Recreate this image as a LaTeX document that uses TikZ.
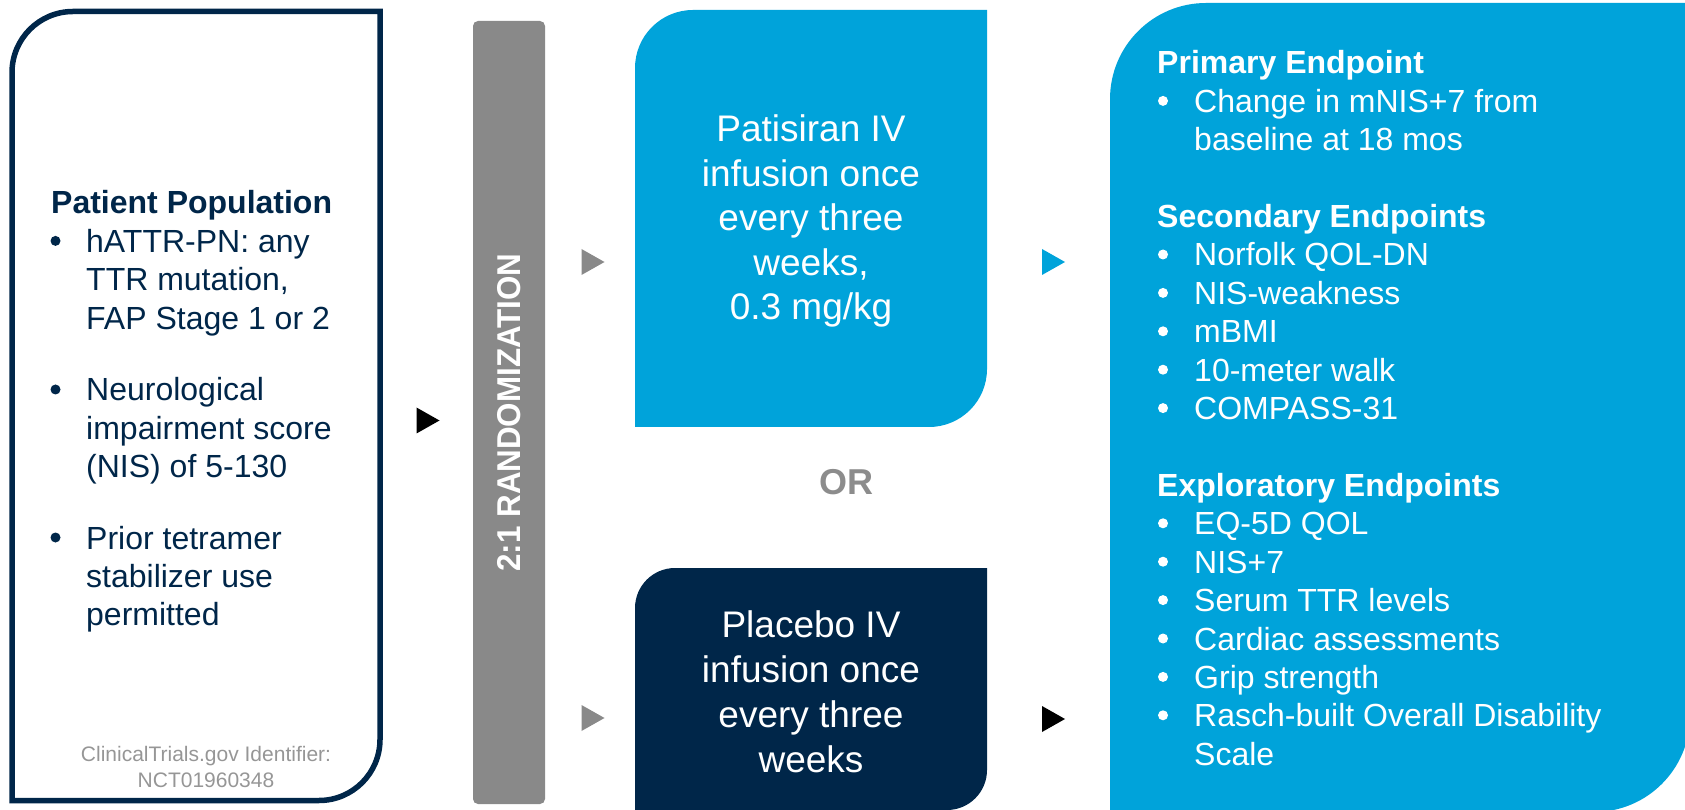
\documentclass[tikz,border=0pt]{standalone}
\usepackage{fontspec}
\setmainfont{Liberation Sans}
\usepackage{graphicx}
\definecolor{navy}{RGB}{0,38,73}
\definecolor{cyanc}{RGB}{0,163,218}
\definecolor{randgray}{RGB}{137,137,137}
\definecolor{orgray}{RGB}{140,140,140}
\definecolor{idgray}{RGB}{150,150,150}
\tikzset{
  lt/.style={inner sep=0pt, anchor=base west, font=\fontsize{32}{38}\selectfont, text=navy},
  ltb/.style={lt, font=\fontsize{32}{38}\selectfont\bfseries},
  rt/.style={inner sep=0pt, anchor=base west, font=\fontsize{32}{38}\selectfont, text=white},
  rtb/.style={rt, font=\fontsize{32}{38}\selectfont\bfseries},
  armt/.style={inner sep=0pt, anchor=base, font=\fontsize{37}{44}\selectfont, text=white},
  idt/.style={inner sep=0pt, anchor=base, font=\fontsize{21}{25}\selectfont, text=idgray},
  bul/.style={circle, inner sep=0pt, minimum size=10pt, fill=#1},
}
\newcommand{\tri}[2]{\fill[#2] (#1) ++(-11.5,13) -- ++(23,-13) -- ++(-23,-13) -- cycle;}
\begin{document}
\begin{tikzpicture}[x=1pt,y=1pt]
\clip (0,0) rectangle (1685,809);
\useasboundingbox (0,0) rectangle (1685,809);

% Left population box
\draw[navy, line width=5.5pt] (12,8.5) -- (12,736.5) arc[start angle=180,end angle=90,radius=61] -- (380,797.5) -- (380,69.5) arc[start angle=0,end angle=-90,radius=61] -- cycle;
\node[ltb] (pp) at (51,595) {Patient Population};
\node[bul=navy] (lb1) at (55.5,568.1) {};
\node[lt] (l1) at (86,556.6) {hATTR-PN: any};
\node[lt] (l2) at (86,518.2) {TTR mutation,};
\node[lt] (l3) at (86,479.8) {FAP Stage 1 or 2};
\node[bul=navy] (lb2) at (55.5,419.5) {};
\node[lt] (l4) at (86,408) {Neurological};
\node[lt] (l5) at (86,369.6) {impairment score};
\node[lt] (l6) at (86,331.2) {(NIS) of 5-130};
\node[bul=navy] (lb3) at (55.5,271.5) {};
\node[lt] (l7) at (86,260) {Prior tetramer};
\node[lt] (l8) at (86,221.6) {stabilizer use};
\node[lt] (l9) at (86,183.2) {permitted};
\node[idt] (id1) at (206,48) {ClinicalTrials.gov Identifier:};
\node[idt] (id2) at (206,22) {NCT01960348};

% Randomization bar
\node[fill=randgray, rounded corners=5pt, minimum width=783pt, minimum height=72pt, rotate=90, inner sep=0pt, text=white, font=\fontsize{33}{40}\selectfont\bfseries] (rand) at (509,396.5) {\scalebox{0.95}[1]{2:1 RANDOMIZATION}};

% Arm boxes
\fill[cyanc] (635,382) -- (635,741) arc[start angle=180,end angle=90,radius=58] -- (987,799) -- (987,440) arc[start angle=0,end angle=-90,radius=58] -- cycle;
\fill[navy] (635,-1) -- (635,201) arc[start angle=180,end angle=90,radius=40] -- (987,241) -- (987,39) arc[start angle=0,end angle=-90,radius=40] -- cycle;
\node[armt] (p1) at (811,667) {Patisiran IV};
\node[armt] (p2) at (811,622) {infusion once};
\node[armt] (p3) at (811,578) {every three};
\node[armt] (p4) at (811,533) {weeks,};
\node[armt] (p5) at (811,489) {0.3 mg/kg};
\node[armt] (q1) at (811,172) {Placebo IV};
\node[armt] (q2) at (811,127) {infusion once};
\node[armt] (q3) at (811,81.5) {every three};
\node[armt] (q4) at (811,37) {weeks};
\node[inner sep=0pt, anchor=base, font=\fontsize{36}{43}\selectfont\bfseries, text=orgray] (or) at (846,315) {OR};

% Endpoints box
\fill[cyanc] (1110,-3) -- (1110,710) arc[start angle=180,end angle=90,radius=96] -- (1690,806) -- (1690,93) arc[start angle=0,end angle=-90,radius=96] -- cycle;
\node[rtb] (e0) at (1157,735) {Primary Endpoint};
\node[bul=white] (eb1) at (1163,708.1) {};
\node[rt] (e1) at (1194,696.6) {Change in mNIS+7 from};
\node[rt] (e2) at (1194,658.2) {baseline at 18 mos};
\node[rtb] (s0) at (1157,581.4) {Secondary Endpoints};
\node[bul=white] (sb1) at (1163,554.5) {};
\node[rt] (s1) at (1194,543) {Norfolk QOL-DN};
\node[bul=white] (sb2) at (1163,516.1) {};
\node[rt] (s2) at (1194,504.6) {NIS-weakness};
\node[bul=white] (sb3) at (1163,477.7) {};
\node[rt] (s3) at (1194,466.2) {mBMI};
\node[bul=white] (sb4) at (1163,439.3) {};
\node[rt] (s4) at (1194,427.8) {10-meter walk};
\node[bul=white] (sb5) at (1163,400.9) {};
\node[rt] (s5) at (1194,389.4) {COMPASS-31};
\node[rtb] (x0) at (1157,312.6) {Exploratory Endpoints};
\node[bul=white] (xb1) at (1163,285.7) {};
\node[rt] (x1) at (1194,274.2) {EQ-5D QOL};
\node[bul=white] (xb2) at (1163,247.3) {};
\node[rt] (x2) at (1194,235.8) {NIS+7};
\node[bul=white] (xb3) at (1163,208.9) {};
\node[rt] (x3) at (1194,197.4) {Serum TTR levels};
\node[bul=white] (xb4) at (1163,170.5) {};
\node[rt] (x4) at (1194,159) {Cardiac assessments};
\node[bul=white] (xb5) at (1163,132.1) {};
\node[rt] (x5) at (1194,120.6) {Grip strength};
\node[bul=white] (xb6) at (1163,93.7) {};
\node[rt] (x6) at (1194,82.2) {Rasch-built Overall Disability};
\node[rt] (x7) at (1194,43.8) {Scale};

% Arrow markers
\coordinate (a1) at (428,388.5);
\coordinate (a2) at (593,547);
\coordinate (a3) at (593,91);
\coordinate (a4) at (1053.5,547);
\coordinate (a5) at (1053.5,90);
\tri{a1}{black}
\tri{a2}{randgray}
\tri{a3}{randgray}
\tri{a4}{cyanc}
\tri{a5}{black}
\end{tikzpicture}
\end{document}
